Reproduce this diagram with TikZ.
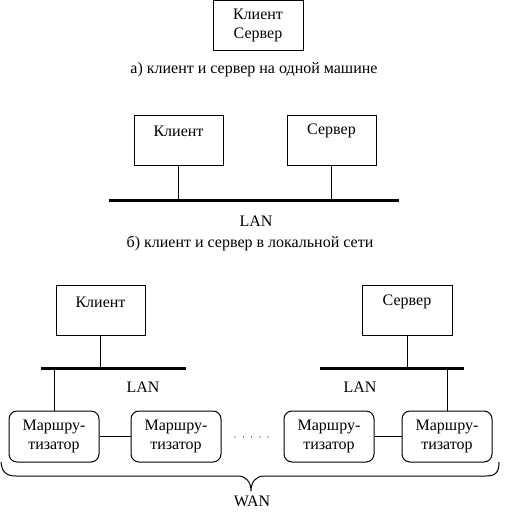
\documentclass[tikz,border=0pt]{standalone}
\usepackage{fontspec}
\setmainfont{Liberation Serif}
\begin{document}
\begin{tikzpicture}[x=1pt,y=-1pt,
  every node/.style={font=\fontsize{16}{19}\selectfont, inner sep=0pt},
  box/.style={draw, line width=1pt, minimum width=89pt, minimum height=50pt, align=center},
  router/.style={draw, line width=1pt, rounded corners=8pt, minimum width=90pt, minimum height=51pt, align=center},
  lan/.style={line width=3pt},
  wire/.style={line width=1pt}]
\useasboundingbox (0,0) rectangle (504,512);
% a)
\node[box, minimum width=90pt] (top) at (258,25.5) {Клиент\\Сервер};
\node (capa) at (254,70) {а) клиент и сервер на одной машине};
% b)
\node[box] (bk) at (178.5,140) {};
\node (bkt) at (178.5,131) {Клиент};
\node[box] (bs) at (331.5,140) {};
\node (bst) at (331.5,131) {Сервер};
\coordinate (lanbL) at (109,200);
\coordinate (lanbR) at (399,200);
\draw[lan] (lanbL) -- (lanbR);
\draw[wire] (bk.south) -- (bk.south |- lanbL);
\draw[wire] (bs.south) -- (bs.south |- lanbL);
\node (lanb) at (256,221) {LAN};
\node (capb) at (250,243) {б) клиент и сервер в локальной сети};
% c)
\node[box] (ck) at (100.5,310) {};
\node (ckt) at (100.5,302) {Клиент};
\node[box, minimum width=90pt] (cs) at (407,310) {};
\node (cst) at (407,302) {Сервер};
\coordinate (lan1L) at (41,368);
\coordinate (lan1R) at (186,368);
\coordinate (lan2L) at (320,368);
\coordinate (lan2R) at (464,368);
\draw[lan] (lan1L) -- (lan1R);
\draw[lan] (lan2L) -- (lan2R);
\node (lanc1) at (143,387) {LAN};
\node (lanc2) at (360,387) {LAN};
\node[router] (r1) at (54,436.5) {Маршру-\\тизатор};
\node[router] (r2) at (176,436.5) {Маршру-\\тизатор};
\node[router] (r3) at (329,436.5) {Маршру-\\тизатор};
\node[router] (r4) at (447,436.5) {Маршру-\\тизатор};
\draw[wire] (ck.south) -- (ck.south |- lan1L);
\draw[wire] (cs.south) -- (cs.south |- lan2L);
\draw[wire] (r1.north) -- (r1.north |- lan1L);
\draw[wire] (r4.north) -- (r4.north |- lan2L);
\draw[wire] (r1.east) -- (r2.west);
\draw[wire] (r3.east) -- (r4.west);
\foreach \x in {235,243.5,251.5,260,268} \fill (\x,437) circle (0.7pt);
% brace
\coordinate (brL) at (1,462);
\coordinate (brR) at (499,462);
\coordinate (brT) at (251,491);
\draw[wire] (brL) .. controls (2,472) and (6,476) .. (16,476) -- (238,476)
  .. controls (246,476) and (251,482) .. (brT)
  .. controls (251,482) and (256,476) .. (264,476) -- (486,476)
  .. controls (496,476) and (499,472) .. (brR);
\node (wan) at (252,501) {WAN};
\end{tikzpicture}
\end{document}
